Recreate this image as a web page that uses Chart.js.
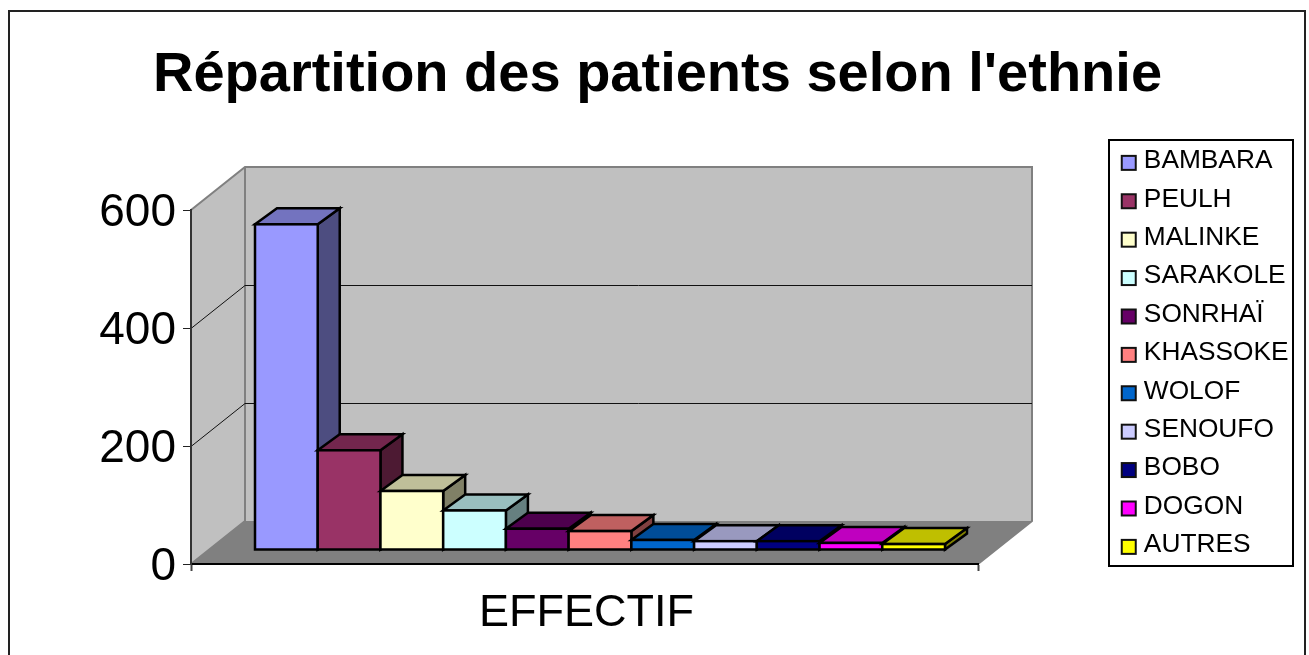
<!DOCTYPE html>
<html>
<head>
<meta charset="utf-8">
<style>html,body{margin:0;padding:0;background:#fff}canvas{display:block}</style>
<script src="https://cdn.jsdelivr.net/npm/chart.js@4/dist/chart.umd.min.js"></script>
</head>
<body>
<canvas id="c" width="1309" height="655"></canvas>
<script>
const chartTitle = "Répartition des patients selon l'ethnie";
const categories = ['EFFECTIF'];
const seriesNames = ['BAMBARA','PEULH','MALINKE','SARAKOLE','SONRHAÏ','KHASSOKE','WOLOF','SENOUFO','BOBO','DOGON','AUTRES'];
const seriesValues = [552,169,100,67,36,32,17,15,15,12,10];
const seriesColors = ['#9999FF','#993366','#FFFFCC','#CCFFFF','#660066','#FF8080','#0066CC','#CCCCFF','#000080','#FF00FF','#FFFF00'];

const FONT = '"Liberation Sans", Arial, sans-serif';
const WALL = {dx:54, dy:-43};
const BAR_PLANE = {dx:15.5, dy:-14};
const BAR_DEPTH = {dx:22, dy:-16};

function shade(hex, f){
  const n = parseInt(hex.slice(1),16);
  return 'rgb('+[(n>>16)&255,(n>>8)&255,n&255].map(v=>Math.round(v*f)).join(',')+')';
}
function poly(ctx, pts, fill, stroke, lw){
  ctx.beginPath();
  pts.forEach((p,i)=> i?ctx.lineTo(p[0],p[1]):ctx.moveTo(p[0],p[1]));
  ctx.closePath();
  if(fill){ctx.fillStyle=fill;ctx.fill();}
  if(stroke){ctx.strokeStyle=stroke;ctx.lineWidth=lw;ctx.stroke();}
}
function swatch(color){
  const s=document.createElement('canvas'); s.width=40; s.height=40;
  const g=s.getContext('2d');
  g.fillStyle=color; g.fillRect(16,15,14,14);
  g.strokeStyle='#111'; g.lineWidth=2; g.strokeRect(16,15,14,14);
  return s;
}

const scene = {
  id:'scene',
  afterLayout(chart){
    const l=chart.legend, pad=12.4;
    l.left=1121-pad; l.top=148-pad; l.width=190; l.right=l.left+l.width; l.height=500; l.bottom=l.top+500;
    const t=chart.titleBlock;
    t.left=0; t.right=1315; t.width=1315;
  },
  beforeDraw(chart){
    const ctx=chart.ctx, a=chart.chartArea, yS=chart.scales.y;
    ctx.save();
    ctx.fillStyle='#fff'; ctx.fillRect(0,0,chart.width,chart.height);
    ctx.strokeStyle='#222'; ctx.lineWidth=2; ctx.strokeRect(9,11,1296,700);
    const x0=a.left,x1=a.right,y0=a.bottom,yT=a.top,dx=WALL.dx,dy=WALL.dy;
    poly(ctx,[[x0,yT],[x0+dx,yT+dy],[x0+dx,y0+dy],[x0,y0]],'#C0C0C0');
    poly(ctx,[[x0+dx,yT+dy],[x1+dx,yT+dy],[x1+dx,y0+dy],[x0+dx,y0+dy]],'#C0C0C0');
    poly(ctx,[[x0,y0],[x0+dx,y0+dy],[x1+dx,y0+dy],[x1,y0]],'#808080');
    ctx.strokeStyle='#808080'; ctx.lineWidth=2;
    ctx.beginPath();
    ctx.moveTo(x0,yT);ctx.lineTo(x0+dx,yT+dy);ctx.lineTo(x1+dx,yT+dy);ctx.lineTo(x1+dx,y0+dy);ctx.lineTo(x1,y0);
    ctx.moveTo(x0+dx,yT+dy);ctx.lineTo(x0+dx,y0+dy);ctx.lineTo(x0,y0);
    ctx.stroke();
    ctx.strokeStyle='#111'; ctx.lineWidth=1;
    yS.ticks.forEach(t=>{
      if(t.value<=yS.min||t.value>=yS.max) return;
      const y=Math.round(yS.getPixelForValue(t.value))+0.5;
      ctx.beginPath();ctx.moveTo(x0,y);ctx.lineTo(x0+dx,y+dy);ctx.lineTo(x1+dx,y+dy);ctx.stroke();
    });
    ctx.strokeStyle='#000'; ctx.lineWidth=2;
    ctx.strokeRect(1109,140,184,426);
    ctx.restore();
  },
  beforeDatasetsDraw(chart){
    const ctx=chart.ctx;
    ctx.save();
    ctx.translate(BAR_PLANE.dx,BAR_PLANE.dy);
    ctx.lineJoin='miter';
    chart.data.datasets.forEach((ds,i)=>{
      const el=chart.getDatasetMeta(i).data[0];
      const L=el.x-el.width/2,R=el.x+el.width/2,T=el.y,B=el.base,dx=BAR_DEPTH.dx,dy=BAR_DEPTH.dy;
      const c=seriesColors[i];
      poly(ctx,[[R,T],[R+dx,T+dy],[R+dx,B+dy],[R,B]],shade(c,0.5),'#000',2.5);
      poly(ctx,[[L,T],[L+dx,T+dy],[R+dx,T+dy],[R,T]],shade(c,0.75),'#000',2.5);
      el.draw(ctx);
      ctx.strokeStyle='#000';ctx.lineWidth=2.5;ctx.strokeRect(L,T,R-L,B-T);
    });
    ctx.restore();
    return false;
  }
};

new Chart(document.getElementById('c'),{
  type:'bar',
  data:{
    labels:categories,
    datasets:seriesNames.map((n,i)=>({
      label:n,data:[seriesValues[i]],backgroundColor:seriesColors[i],
      borderWidth:0,categoryPercentage:690/787,barPercentage:1
    }))
  },
  plugins:[scene],
  options:{
    responsive:false,animation:false,
    layout:{padding:{top:0,left:0,right:331,bottom:0}},
    plugins:{
      title:{display:true,text:chartTitle,color:'#000',
        font:{family:FONT,size:56,weight:'bold'},
        padding:{top:42.4,bottom:100.4}},
      legend:{display:true,position:'chartArea',align:'start',
        labels:{
          color:'#000',font:{family:FONT,size:26.3},padding:12.1,
          usePointStyle:true,pointStyleWidth:10,boxHeight:26.3,
          generateLabels(chart){
            return Chart.defaults.plugins.legend.labels.generateLabels(chart).map((it,i)=>({...it,pointStyle:swatch(seriesColors[i])}));
          }
        }},
      tooltip:{enabled:false}
    },
    scales:{
      x:{
        afterFit(s){s.height=91;},
        border:{display:true,color:'#000',width:2},
        grid:{display:true,drawOnChartArea:false,drawTicks:true,tickLength:7,tickColor:'#444',tickWidth:2},
        ticks:{color:'#000',font:{family:FONT,size:45},padding:16,labelOffset:2}
      },
      y:{
        min:0,max:600,
        afterFit(s){s.width=191;},
        border:{display:true,color:'#333',width:2},
        grid:{display:true,drawOnChartArea:false,drawTicks:true,tickLength:8,tickColor:'#222',tickWidth:1},
        ticks:{stepSize:200,color:'#000',font:{family:FONT,size:46},padding:7,labelOffset:3.5}
      }
    }
  }
});
</script>
</body>
</html>
